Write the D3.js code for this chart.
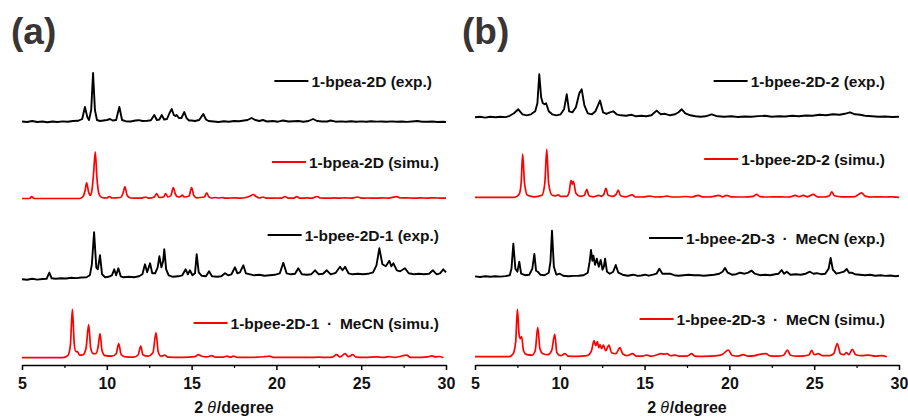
<!DOCTYPE html>
<html>
<head>
<meta charset="utf-8">
<script src="https://cdn.jsdelivr.net/npm/d3@7"></script>
<style>
  body { margin: 0; background: #fff; }
  svg { display: block; font-family: Arial, 'Liberation Sans', sans-serif; }
</style>
</head>
<body>
<svg id="chart" width="908" height="417"></svg>
<script>
// 2theta axis ticks
const majorTicks = [5, 10, 15, 20, 25, 30]
const minorTicks = [7.5, 12.5, 17.5, 22.5, 27.5]

// panel (a): [2theta, intensity]
const bpea2dExp = [[5.0,0.5],[5.3,0],[5.6,1],[5.9,0],[6.2,0.5],[6.5,-0.3],[6.8,0.5],[7.1,0],[7.4,0.6],[7.7,0.2],[8.0,1],[8.3,1.2],[8.55,3],[8.71,15],[8.85,5],[8.95,2],[9.08,12],[9.19,49],[9.3,12],[9.42,2],[9.6,1],[9.8,1.5],[10.0,2],[10.19,3],[10.35,1.5],[10.55,2],[10.74,15],[10.9,2],[11.1,0.8],[11.4,0.5],[11.7,1.5],[11.9,1.8],[12.1,1],[12.4,1.2],[12.6,1.8],[12.8,7],[12.95,2],[13.1,2.5],[13.24,7],[13.38,2.5],[13.55,3],[13.7,9],[13.83,13],[13.95,7],[14.05,6],[14.12,7],[14.25,4],[14.4,4],[14.57,10],[14.7,4],[14.85,1.5],[15.0,1.5],[15.2,1],[15.45,2],[15.69,8],[15.85,2.5],[16.0,1],[16.3,0.5],[16.6,0],[16.9,0.8],[17.2,0.3],[17.5,1],[17.8,0.8],[18.1,1.5],[18.3,2],[18.54,4],[18.75,2],[19.0,1],[19.2,2],[19.45,0.5],[19.8,1],[20.1,0.3],[20.4,1.5],[20.7,0.5],[21.0,0.8],[21.3,1],[21.6,0.3],[21.9,1],[22.16,3],[22.4,1],[22.7,0.5],[23.0,0.5],[23.2,1.5],[23.5,0.3],[23.8,0.6],[24.1,0.2],[24.4,0.8],[24.7,0.3],[25.0,0.6],[25.3,0.2],[25.6,0.7],[25.9,0.4],[26.2,0.5],[26.5,0.2],[26.8,0.6],[27.1,0.3],[27.4,0.5],[27.7,0.1],[28.0,0.5],[28.3,1],[28.6,0.3],[28.9,0.3],[29.2,0.5],[29.5,0],[29.8,0.3],[30.0,0]]

const bpea2dSimu = [[5.0,0],[5.45,0],[5.57,2],[5.7,0],[8.4,0],[8.6,2],[8.72,8],[8.81,15.7],[8.92,7],[9.02,3],[9.12,8],[9.22,25],[9.32,46.7],[9.42,20],[9.55,4],[9.7,1],[10.0,0.5],[10.15,2],[10.3,0.5],[10.8,1],[10.95,5],[11.07,11.7],[11.2,3],[11.4,0.5],[12.0,0.3],[12.3,1.5],[12.45,0.3],[12.8,1.5],[12.94,5],[13.08,1],[13.35,1.5],[13.47,5],[13.6,1.5],[13.78,3],[13.92,11],[14.05,4],[14.2,1.5],[14.35,2],[14.45,3.3],[14.58,1.5],[14.85,2.5],[15.0,11],[15.13,3],[15.3,0.7],[15.75,1.5],[15.89,5.7],[16.02,1.5],[16.2,0.5],[16.4,1],[16.6,0.5],[16.8,1],[17.0,0.3],[17.3,0.5],[17.6,0.6],[17.9,0.3],[18.2,1],[18.45,2.5],[18.64,4],[18.8,2],[19.0,0.5],[19.2,1.5],[19.4,0.3],[19.8,0.3],[20.0,0.5],[20.3,0.3],[20.5,2],[20.7,0.3],[21.0,0.3],[21.2,1.8],[21.4,0.3],[21.8,0.6],[22.1,0.3],[22.4,2],[22.6,0.5],[23.0,0.3],[23.4,0.6],[23.7,0.3],[24.1,0.7],[24.4,0.3],[24.8,1.5],[25.0,0.4],[25.4,0.5],[25.8,0.3],[26.2,0.6],[26.6,0.4],[27.1,1.8],[27.3,0.5],[27.7,0.7],[28.1,0.3],[28.5,0.6],[28.9,0.4],[29.3,0.7],[29.7,0.3],[30.0,0.3]]

const bpee2d1Exp = [[5.0,0],[5.3,-0.5],[5.6,0.5],[5.9,-0.3],[6.2,0.3],[6.45,0.5],[6.61,6.7],[6.75,1],[7.0,0.5],[7.3,1],[7.6,0.8],[7.9,1.5],[8.2,1.2],[8.5,1.8],[8.8,2],[9.0,4],[9.12,15],[9.25,47],[9.38,12],[9.47,10],[9.6,24],[9.72,5],[9.9,2],[10.1,2.5],[10.3,4],[10.44,10],[10.55,4],[10.68,11],[10.82,3],[11.0,2],[11.3,2.5],[11.6,2],[11.9,3],[12.1,5],[12.25,15],[12.38,7],[12.55,16],[12.68,6],[12.85,6],[13.0,12],[13.1,23],[13.22,12],[13.32,18],[13.39,30],[13.5,10],[13.65,4],[13.9,2.5],[14.2,3],[14.45,4],[14.65,10],[14.78,5],[14.9,9],[15.05,4],[15.2,6],[15.3,25],[15.42,7],[15.6,3.5],[15.85,3],[16.03,8],[16.2,3],[16.5,2.5],[16.75,3],[16.97,6],[17.15,4],[17.35,5],[17.56,12],[17.7,6],[17.85,7],[18.05,14],[18.2,6],[18.45,5],[18.7,4],[19.0,4.5],[19.3,3.5],[19.6,4],[19.9,4.5],[20.2,6],[20.41,16.5],[20.6,6],[20.85,5],[21.1,5.5],[21.29,11],[21.5,5],[21.8,4.5],[22.05,5],[22.28,9],[22.5,5],[22.75,5.5],[22.97,9],[23.2,5],[23.5,6.5],[23.75,12.5],[23.9,9],[24.05,12.5],[24.25,6],[24.5,5],[24.8,5.5],[25.1,5],[25.4,5.5],[25.7,7],[25.9,14],[26.07,31],[26.25,15],[26.45,13],[26.66,18.5],[26.78,13],[26.9,16],[27.1,9],[27.3,8],[27.58,11],[27.8,6],[28.1,5],[28.4,5.5],[28.7,5],[29.0,5.5],[29.23,9],[29.45,5],[29.65,6],[29.84,10],[30.0,7]]

const bpee2d1MeCNSimu = [[5.0,0],[7.4,0],[7.7,2],[7.85,12],[7.97,48.3],[8.08,14],[8.18,6],[8.26,6],[8.4,2.5],[8.6,3],[8.78,10],[8.93,33],[9.05,10],[9.2,4],[9.35,4],[9.48,10],[9.6,24],[9.72,7],[9.9,2],[10.3,1.5],[10.55,4],[10.7,14],[10.85,3],[11.1,0.8],[11.6,0.5],[11.85,3],[12.0,11.7],[12.13,3],[12.4,1.5],[12.72,5],[12.9,25],[13.03,6],[13.2,1.5],[13.42,2.5],[13.6,0.5],[14.5,0.3],[15.2,1],[15.4,3],[15.6,1.5],[15.9,0.8],[16.2,2],[16.4,0.6],[16.8,0.5],[17.1,1.5],[17.3,0.5],[17.45,1.5],[17.7,0.4],[18.3,0.3],[18.9,0.5],[19.3,1],[19.6,1.5],[19.8,0.4],[20.3,0.3],[20.8,0.4],[21.4,0.4],[22.0,0.3],[22.5,0.5],[23.0,0.3],[23.3,0.5],[23.55,3],[23.75,0.8],[24.05,4],[24.25,1],[24.5,3],[24.7,0.5],[25.2,0.3],[25.9,0.8],[26.3,0.3],[26.6,1],[27.0,0.4],[27.68,2.5],[27.9,0.4],[28.5,0.3],[29.0,1],[29.16,1.8],[29.4,0.8],[29.6,1.2],[29.84,0]]

// panel (b)
const bpee2d2Exp = [[5.0,0],[5.3,0.5],[5.6,-0.3],[5.9,0.5],[6.2,0],[6.5,0.6],[6.8,0.2],[7.05,1.5],[7.3,4],[7.55,8],[7.8,3],[8.05,2],[8.3,3],[8.55,6],[8.68,14],[8.79,43],[8.9,20],[9.0,14],[9.1,13],[9.19,14],[9.35,6],[9.55,3],[9.8,2],[10.05,3],[10.25,8],[10.41,23],[10.55,6],[10.75,5],[10.95,10],[11.15,24],[11.29,28],[11.45,12],[11.65,4],[11.9,3],[12.1,6],[12.37,16.7],[12.55,5],[12.75,3.5],[12.95,5],[13.15,6],[13.35,3],[13.6,2],[13.9,1.5],[14.24,2.5],[14.5,1],[14.8,1.5],[15.1,1],[15.4,2],[15.71,6.7],[15.95,3],[16.2,3.5],[16.5,2],[16.8,3],[17.0,5],[17.19,8],[17.4,4],[17.7,2],[18.0,1],[18.3,0.5],[18.6,1],[18.95,3],[19.3,1],[19.7,0.5],[20.1,1],[20.5,0.3],[20.9,0.8],[21.3,0.5],[21.7,1.2],[22.1,1.5],[22.5,0.5],[22.9,1],[23.3,0.8],[23.7,1.5],[24.1,1],[24.5,1.8],[24.9,1.5],[25.3,2.5],[25.7,2],[26.1,3],[26.5,2.5],[26.8,3.5],[27.11,5],[27.4,3],[27.7,2.5],[28.0,1.5],[28.4,1],[28.8,0.5],[29.2,0.8],[29.6,0.3],[30.0,0.5]]

const bpee2d2Simu = [[5.0,0],[7.35,0],[7.6,3],[7.72,14],[7.81,43.3],[7.92,14],[8.1,2],[8.5,0.5],[8.95,2],[9.12,15],[9.23,48],[9.34,14],[9.55,2],[9.75,1.5],[9.91,2.5],[10.05,1],[10.4,1],[10.55,5],[10.66,17],[10.74,13],[10.8,16],[10.95,4],[11.2,1],[11.45,2],[11.59,8],[11.72,1.5],[12.0,0.5],[12.3,2],[12.45,1],[12.6,3],[12.72,9],[12.85,2],[13.1,1],[13.32,3],[13.45,7.3],[13.58,1.5],[13.9,0.5],[14.27,2.5],[14.45,0.3],[15.0,0.5],[15.3,1.2],[15.6,0.3],[16.0,0.4],[16.3,1.2],[16.6,0.3],[17.0,0.3],[17.4,0.8],[17.8,0.3],[18.17,2],[18.4,0.4],[18.8,0.3],[19.1,1],[19.35,2],[19.6,0.5],[19.84,2],[20.1,0.4],[20.6,0.3],[21.1,0.5],[21.4,1],[21.61,3],[21.8,0.6],[22.3,0.3],[22.8,0.5],[23.3,0.3],[23.6,0.5],[23.87,2],[24.1,0.6],[24.36,2],[24.6,0.5],[24.95,3],[25.2,0.5],[25.6,0.3],[25.9,1.5],[26.03,5.5],[26.2,1.5],[26.6,0.4],[27.0,0.4],[27.4,0.7],[27.8,4.5],[28.0,1.2],[28.4,0.3],[28.8,0.5],[29.2,0.3],[29.6,0.4],[30.0,0]]

const bpee2d3MeCNExp = [[5.0,0.3],[5.3,-0.3],[5.6,0.4],[5.9,0],[6.2,0.5],[6.5,0.1],[6.8,0.6],[7.05,1.5],[7.15,8],[7.26,33],[7.38,8],[7.5,5],[7.61,15],[7.72,3],[7.95,1.5],[8.2,2],[8.38,8],[8.5,22.7],[8.6,6],[8.7,5],[8.85,2],[9.1,1.5],[9.35,4],[9.45,15],[9.54,46],[9.65,10],[9.8,2],[10.0,3],[10.2,1],[10.5,0.5],[10.8,0.8],[11.1,1],[11.4,1.5],[11.65,4],[11.76,15],[11.84,26.7],[11.92,16],[11.98,21],[12.08,12],[12.18,18],[12.3,10],[12.41,16.7],[12.52,7],[12.6,10],[12.67,18],[12.78,5],[12.95,3],[13.15,5],[13.3,11.7],[13.45,4],[13.7,2],[14.0,1],[14.33,2],[14.6,0.8],[14.8,1.2],[15.02,2],[15.25,1],[15.5,2],[15.7,3],[15.87,8],[16.05,3],[16.25,3],[16.5,3],[16.75,1.5],[17.0,1],[17.3,1.5],[17.6,2],[17.9,1.5],[18.2,1.5],[18.5,1],[18.8,1.5],[19.1,2],[19.4,3],[19.6,5],[19.74,8.7],[19.9,4],[20.15,2],[20.4,2.5],[20.63,4],[20.9,3],[21.1,4],[21.31,6],[21.5,3],[21.8,1.5],[22.1,2],[22.4,1.5],[22.7,2.5],[22.9,3],[23.08,6.7],[23.22,3],[23.38,5],[23.6,2],[23.9,2.5],[24.2,2],[24.5,3],[24.75,5],[24.95,3],[25.15,3.5],[25.4,2.5],[25.65,3],[25.85,8],[25.97,18.7],[26.1,7],[26.3,3],[26.55,4],[26.75,5],[26.92,7.7],[27.05,4],[27.2,4],[27.4,2.5],[27.7,2],[28.0,1.5],[28.3,2],[28.6,1],[28.9,1.5],[29.2,0.8],[29.5,1.2],[29.8,0.5],[30.0,1]]

const bpee2d3MeCNSimu = [[5.0,0],[7.0,0],[7.25,3],[7.4,15],[7.5,47.3],[7.6,22],[7.67,18],[7.75,20],[7.86,6],[8.05,2],[8.35,1.5],[8.55,6],[8.7,29.3],[8.83,8],[9.0,3],[9.3,2],[9.52,6],[9.7,22.3],[9.83,4],[10.05,1],[10.31,3],[10.5,0.5],[11.0,0.3],[11.6,1],[11.85,5],[12.02,16],[12.12,11],[12.21,15],[12.3,9],[12.37,12],[12.47,8],[12.57,11.7],[12.7,6],[12.9,11.7],[13.05,4],[13.3,3],[13.55,9],[13.7,3],[13.95,1],[14.3,3],[14.5,0.6],[14.8,0.5],[15.12,1.5],[15.4,0.5],[15.75,2],[15.95,3],[16.15,2.5],[16.3,3],[16.55,1],[16.8,1.5],[17.1,0.5],[17.5,0.5],[17.78,3],[17.95,0.6],[18.4,0.4],[18.9,0.5],[19.3,1],[19.6,2.5],[19.94,6.7],[20.15,1.5],[20.5,0.6],[20.82,2],[21.1,0.5],[21.5,1],[21.7,2],[22.16,3],[22.4,0.8],[22.8,0.5],[23.2,1.5],[23.42,6.7],[23.6,1.5],[24.0,0.5],[24.4,0.8],[24.7,2],[24.85,6.3],[25.0,2],[25.24,3],[25.5,1],[25.9,1],[26.15,3],[26.36,13],[26.55,3],[26.75,2],[26.9,4],[27.05,2],[27.24,7.3],[27.45,2],[27.8,1],[28.2,1.5],[28.6,0.5],[29.0,1],[29.28,0]]

// legend names and stacking offsets (intensity units)
const dot = '\u2002\u00B7\u2002'
const namesA = ['1-bpea-2D (exp.)', '1-bpea-2D (simu.)', '1-bpee-2D-1 (exp.)', '1-bpee-2D-1' + dot + 'MeCN (simu.)']
const namesB = ['1-bpee-2D-2 (exp.)', '1-bpee-2D-2 (simu.)', '1-bpee-2D-3' + dot + 'MeCN (exp.)', '1-bpee-2D-3' + dot + 'MeCN (simu.)']
const offsetsA = [243, 166.5, 85.7, 7.3]
const offsetsB = [247.7, 167.7, 88.3, 8.3]
const legendLevelA = [41, 36.5, 44.3, 34.7]
const legendLevelB = [36.3, 38.3, 38.7, 37.7]

const svg = d3.select('#chart')

const y = d3.scaleLinear().domain([0, 300]).range([365, 65])

const panels = [
    {label: '(a)', labelX: 11, range: [22, 446], series: [bpea2dExp, bpea2dSimu, bpee2d1Exp, bpee2d1MeCNSimu],
     names: namesA, offsets: offsetsA, legend: legendLevelA, legendEnd: [432, 439, 439, 439]},
    {label: '(b)', labelX: 462, range: [475, 899], series: [bpee2d2Exp, bpee2d2Simu, bpee2d3MeCNExp, bpee2d3MeCNSimu],
     names: namesB, offsets: offsetsB, legend: legendLevelB, legendEnd: [885, 885, 885, 885]}
]
const colors = ['#000', '#ff0000', '#000', '#ff0000']

panels.forEach(p => {
    const x = d3.scaleLinear().domain([5, 30]).range(p.range)
    const g = svg.append('g')

    // panel label
    g.append('text')
        .attr('x', p.labelX)
        .attr('y', 44)
        .attr('font-size', '37px')
        .attr('font-weight', 'bold')
        .attr('fill', '#3a3535')
        .text(p.label)

    // traces
    p.series.forEach((s, i) => {
        const simu = i % 2 === 1
        const line = d3.line()
            .x(d => x(d[0]))
            .y(d => y(d[1] + p.offsets[i]))
            .curve(simu ? d3.curveMonotoneX : d3.curveLinear)
        g.append('path')
            .datum(s)
            .attr('fill', 'none')
            .attr('stroke', colors[i])
            .attr('stroke-width', simu ? 1.7 : 1.9)
            .attr('stroke-linejoin', 'round')
            .attr('d', line)

        // legend entry
        const ly = y(p.offsets[i] + p.legend[i])
        const txt = g.append('text')
            .attr('x', p.legendEnd[i])
            .attr('y', ly)
            .attr('dy', '0.36em')
            .attr('text-anchor', 'end')
            .attr('font-size', '15.5px')
            .attr('font-weight', 'bold')
            .attr('fill', '#111')
            .text(p.names[i])
        const tw = txt.node().getComputedTextLength()
        g.append('line')
            .attr('x1', p.legendEnd[i] - tw - 37)
            .attr('x2', p.legendEnd[i] - tw - 3)
            .attr('y1', ly)
            .attr('y2', ly)
            .attr('stroke', colors[i])
            .attr('stroke-width', 2)
    })

    // x axis
    const axis = g.append('g')
        .attr('transform', 'translate(0,' + y(0) + ')')
        .call(d3.axisBottom(x).tickValues(majorTicks).tickSize(5).tickSizeOuter(0).tickPadding(8))
    axis.selectAll('path, line').attr('stroke', '#000').attr('stroke-width', 1.5)
    axis.selectAll('text')
        .attr('font-size', '16px')
        .attr('font-weight', 'bold')
        .attr('font-family', 'Arial, Liberation Sans, sans-serif')
        .attr('fill', '#111')

    g.append('g')
        .attr('transform', 'translate(0,' + y(0) + ')')
        .call(d3.axisBottom(x).tickValues(minorTicks).tickSize(3).tickSizeOuter(0).tickFormat(''))
        .call(a => a.select('.domain').remove())
        .selectAll('line').attr('stroke', '#000').attr('stroke-width', 1.2)

    // axis title
    const title = g.append('text')
        .attr('x', x(17.5))
        .attr('y', 413)
        .attr('text-anchor', 'middle')
        .attr('font-size', '16px')
        .attr('font-weight', 'bold')
        .attr('fill', '#111')
    title.append('tspan').text('2')
    title.append('tspan').attr('font-style', 'italic').attr('font-weight', 'normal').attr('dx', 4).text('\u03B8')
    title.append('tspan').attr('dx', 1).text('/degree')
})
</script>
</body>
</html>
